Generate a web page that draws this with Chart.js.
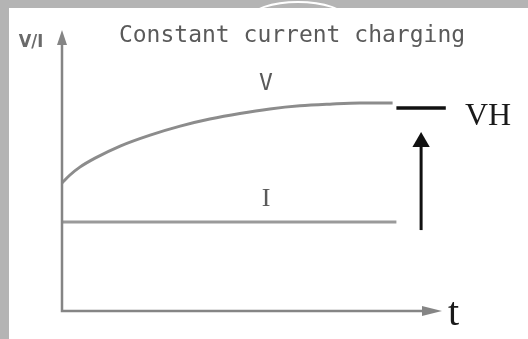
<!DOCTYPE html>
<html>
<head>
    <title>Constant current charging</title>
    <script src="https://cdn.jsdelivr.net/npm/chart.js"></script>
    <style>
        body {
            margin: 0;
            background-color: #ffffff;
        }
        .frame {
            position: relative;
            width: 528px;
            height: 339px;
            overflow: hidden;
        }
        .band-top {
            position: absolute;
            left: 0; top: 0;
            width: 528px; height: 8px;
            background-color: #b4b4b4;
            overflow: hidden;
            z-index: 2;
        }
        .band-left {
            position: absolute;
            left: 0; top: 0;
            width: 9px; height: 339px;
            background-color: #b4b4b4;
            z-index: 2;
        }
        .arc {
            position: absolute;
            left: 250px; top: 1px;
            width: 92px; height: 30px;
            border: 2px solid #ffffff;
            border-radius: 50%;
        }
        canvas {
            position: absolute;
            left: 0; top: 0;
        }
    </style>
</head>
<body>
    <div class="frame">
        <div class="band-top"><div class="arc"></div></div>
        <div class="band-left"></div>
        <canvas id="chargeChart" width="528" height="339"></canvas>
    </div>

    <script>
        // voltage curve (time in arbitrary units, level in arbitrary units)
        const timeV = [0, 2.1, 4.7, 8.7, 15.3, 23.2, 31.1, 38.9, 46.8, 54.7, 62.6, 70.5, 78.4, 87];
        const voltage = [45.6, 48.4, 51.2, 54.4, 58.7, 62.6, 65.8, 68.3, 70.3, 71.9, 73.0, 73.6, 74.0, 74.0];

        // constant current
        const timeI = [0, 88];
        const current = [31.7, 31.7];

        // VH marker and the arrow below it
        const vhTime = [88, 101];
        const vhLevel = [72.2, 72.2];
        const arrowTime = [94.5, 94.5];
        const arrowLevel = [28.8, 60.1];

        const titleText = 'Constant current charging';
        const axisLabels = ['V/I', 't'];
        const curveLabels = ['V', 'I', 'VH'];

        const toPoints = (xs, ys) => xs.map((x, i) => ({ x: x, y: ys[i] }));

        // axes with arrow heads + all the text
        const sketchPlugin = {
            id: 'sketch',
            afterDraw(chart) {
                const ctx = chart.ctx;
                const x = chart.scales.x;
                const y = chart.scales.y;
                const x0 = x.getPixelForValue(0);
                const y0 = y.getPixelForValue(0);
                const xEnd = x.getPixelForValue(100);
                const yEnd = y.getPixelForValue(100);

                ctx.save();
                ctx.strokeStyle = '#858585';
                ctx.fillStyle = '#858585';
                ctx.lineWidth = 2.5;
                ctx.beginPath();
                ctx.moveTo(x0, yEnd + 12);
                ctx.lineTo(x0, y0);
                ctx.lineTo(xEnd - 16, y0);
                ctx.stroke();

                ctx.beginPath();
                ctx.moveTo(x0, yEnd);
                ctx.lineTo(x0 - 5, yEnd + 15);
                ctx.lineTo(x0 + 5, yEnd + 15);
                ctx.closePath();
                ctx.fill();

                ctx.beginPath();
                ctx.moveTo(xEnd, y0);
                ctx.lineTo(xEnd - 20, y0 - 5);
                ctx.lineTo(xEnd - 20, y0 + 5);
                ctx.closePath();
                ctx.fill();

                // title
                ctx.fillStyle = '#5a5a5a';
                ctx.textAlign = 'center';
                ctx.textBaseline = 'alphabetic';
                ctx.font = '23px "DejaVu Sans Mono", monospace';
                ctx.fillText(titleText, 292, 42);

                // curve labels
                ctx.fillText(curveLabels[0], 266, 90);
                ctx.font = '26px "Liberation Serif", serif';
                ctx.fillText(curveLabels[1], 266, 206);

                // V/I
                ctx.font = 'bold 18px "DejaVu Sans Condensed", "DejaVu Sans", sans-serif';
                ctx.fillStyle = '#6a6a6a';
                ctx.fillText(axisLabels[0], 31, 47);

                // VH and t
                ctx.fillStyle = '#1a1a1a';
                ctx.textAlign = 'left';
                ctx.font = '32px "Liberation Serif", serif';
                ctx.fillText(curveLabels[2], 465, 125);
                ctx.font = '40px "Liberation Serif", serif';
                ctx.fillText(axisLabels[1], 448, 325);
                ctx.restore();
            }
        };

        new Chart(document.getElementById('chargeChart').getContext('2d'), {
            type: 'line',
            data: {
                datasets: [
                    {
                        data: toPoints(timeV, voltage),
                        borderColor: '#8c8c8c',
                        borderWidth: 3,
                        pointRadius: 0,
                        cubicInterpolationMode: 'monotone'
                    },
                    {
                        data: toPoints(timeI, current),
                        borderColor: '#9a9a9a',
                        borderWidth: 3,
                        pointRadius: 0
                    },
                    {
                        data: toPoints(vhTime, vhLevel),
                        borderColor: '#111111',
                        borderWidth: 3.5,
                        pointRadius: 0
                    },
                    {
                        data: toPoints(arrowTime, arrowLevel),
                        borderColor: '#111111',
                        backgroundColor: '#111111',
                        borderWidth: 3,
                        pointStyle: 'triangle',
                        pointRadius: [0, 10],
                        pointBorderWidth: 0
                    }
                ]
            },
            options: {
                responsive: false,
                animation: false,
                clip: false,
                layout: {
                    padding: { left: 62, top: 30, right: 86, bottom: 28 }
                },
                plugins: {
                    legend: { display: false },
                    tooltip: { enabled: false }
                },
                scales: {
                    x: { type: 'linear', min: 0, max: 100, display: false },
                    y: { type: 'linear', min: 0, max: 100, display: false }
                }
            },
            plugins: [sketchPlugin]
        });
    </script>
</body>
</html>
